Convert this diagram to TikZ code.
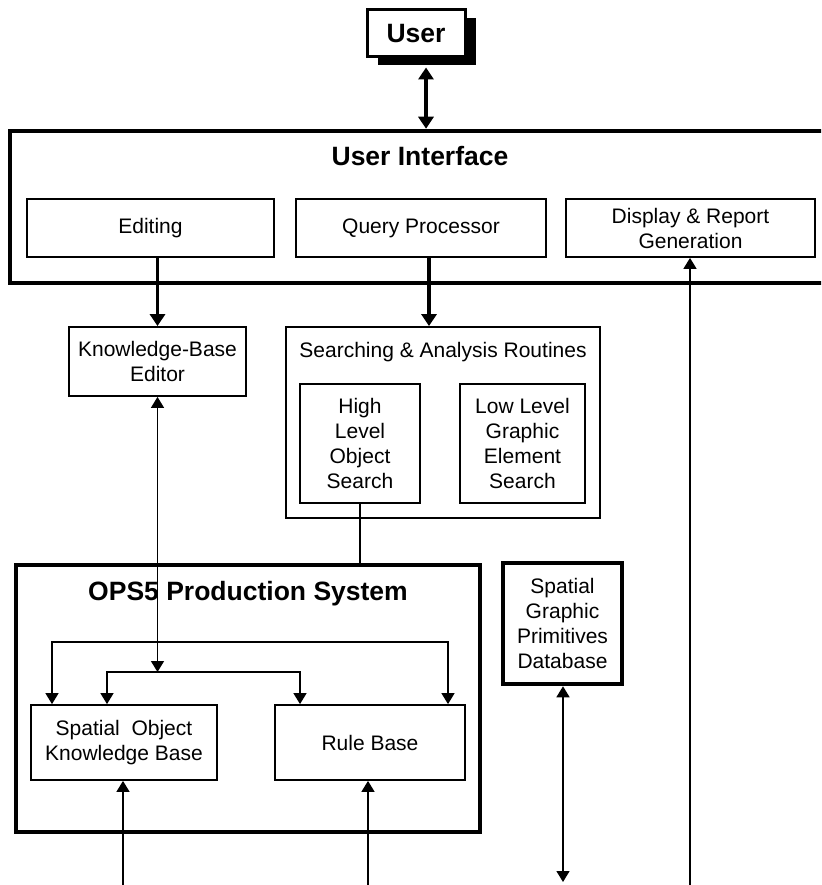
\documentclass[tikz,border=0pt]{standalone}
\usepackage{fontspec}
\setmainfont{Liberation Sans}
\usetikzlibrary{arrows.meta,shadows}
\begin{document}
\begin{tikzpicture}[x=1pt,y=-1pt,
  boxfont/.style={font=\fontsize{21}{25}\selectfont},
  box/.style={draw, line width=1.8pt, inner sep=0pt, align=center, boxfont},
  heavybox/.style={draw, line width=4.5pt, inner sep=0pt},
  heading/.style={inner sep=0pt, font=\fontsize{26.5}{30}\selectfont\bfseries},
  thinline/.style={line width=1.4pt},
  thinarrow/.style={thinline, -{Triangle[width=13pt,length=11pt]}},
  thindouble/.style={thinline, {Triangle[width=13pt,length=11pt]}-{Triangle[width=13pt,length=11pt]}},
  heavyarrow/.style={line width=3.2pt, -{Triangle[width=15pt,length=12pt]}},
  heavydouble/.style={line width=3.2pt, {Triangle[width=15pt,length=12pt]}-{Triangle[width=15pt,length=12pt]}}
]
\useasboundingbox (0,0) rectangle (821,885);
\clip (0,0) rectangle (821,885);

% user with drop shadow
\node[draw, line width=3pt, fill=white, minimum width=98pt, minimum height=47pt,
      inner sep=0pt, font=\fontsize{26.5}{30}\selectfont\bfseries,
      drop shadow={shadow xshift=11pt, shadow yshift=-8pt, opacity=1, fill=black}]
  (user) at (416,33.5) {User};

% user interface frame and its parts
\node[heavybox, minimum width=825pt, minimum height=152pt] (ui) at (422.5,207) {};
\node[heading] (uititle) at (420,156) {User Interface};
\node[box, minimum width=247pt, minimum height=58pt] (ed) at (150.5,228) {Editing};
\node[box, minimum width=250pt, minimum height=58pt] (qp) at (421,228) {Query Processor};
\node[box, minimum width=249pt, minimum height=58pt] (disp) at (690.5,228) {Display \& Report\\Generation};

% editor and search routines
\node[box, minimum width=177pt, minimum height=69pt] (kbe) at (157.5,361.5) {Knowledge-Base\\Editor};
\node[box, minimum width=314pt, minimum height=191pt] (sar) at (443,422.5) {};
\node[inner sep=0pt, boxfont] (sartitle) at (443,352) {Searching \& Analysis Routines};
\node[box, minimum width=120pt, minimum height=119pt] (hlos) at (360,443.5) {High\\Level\\Object\\Search};
\node[box, minimum width=125pt, minimum height=119pt] (llges) at (522.5,443.5) {Low Level\\Graphic\\Element\\Search};

% production system
\node[heavybox, minimum width=464pt, minimum height=267pt] (ops) at (248,698.5) {};
\node[heading] (opstitle) at (248,594) {OPS5 Production System};
\node[box, minimum width=186pt, minimum height=75pt] (sokb) at (124,742.5) {Spatial\ \ Object\\Knowledge Base};
\node[box, minimum width=190pt, minimum height=75pt] (rb) at (370,742.5) {Rule Base};

% primitives database
\node[heavybox, align=center, minimum width=119pt, minimum height=121pt, boxfont]
  (sgpd) at (562.5,623.5) {Spatial\\Graphic\\Primitives\\Database};

% free ends and bracket corners
\coordinate (inL) at (107,672);
\coordinate (inR) at (300,672);
\coordinate (outL) at (52,642);
\coordinate (outR) at (448,642);
\coordinate (endA) at (123,885);
\coordinate (endB) at (368,885);
\coordinate (endC) at (563,882);
\coordinate (endD) at (690,885);

% connectors
\draw[heavydouble] ([xshift=10pt,yshift=-9pt]user.south) -- ([xshift=10pt]user.south |- ui.north);
\draw[heavyarrow] (kbe.north |- ed.south) -- (kbe.north);
\draw[heavyarrow] ([xshift=8pt]qp.south) -- ([xshift=8pt]qp.south |- sar.north);
\draw[thinarrow] (endD) -- (endD |- disp.south);
\draw[thindouble] (kbe.south) -- (kbe.south |- inL);
\draw[thindouble] (inL |- sokb.north) -- (inL) -- (inR) -- (inR |- rb.north);
\draw[thindouble] (outL |- sokb.north) -- (outL) -- (outR) -- (outR |- rb.north);
\draw[thinline] (hlos.south) -- (hlos.south |- ops.north);
\draw[thinarrow] (endA) -- (endA |- sokb.south);
\draw[thinarrow] (endB) -- (endB |- rb.south);
\draw[thindouble] (endC) -- (endC |- sgpd.south);
\end{tikzpicture}
\end{document}
